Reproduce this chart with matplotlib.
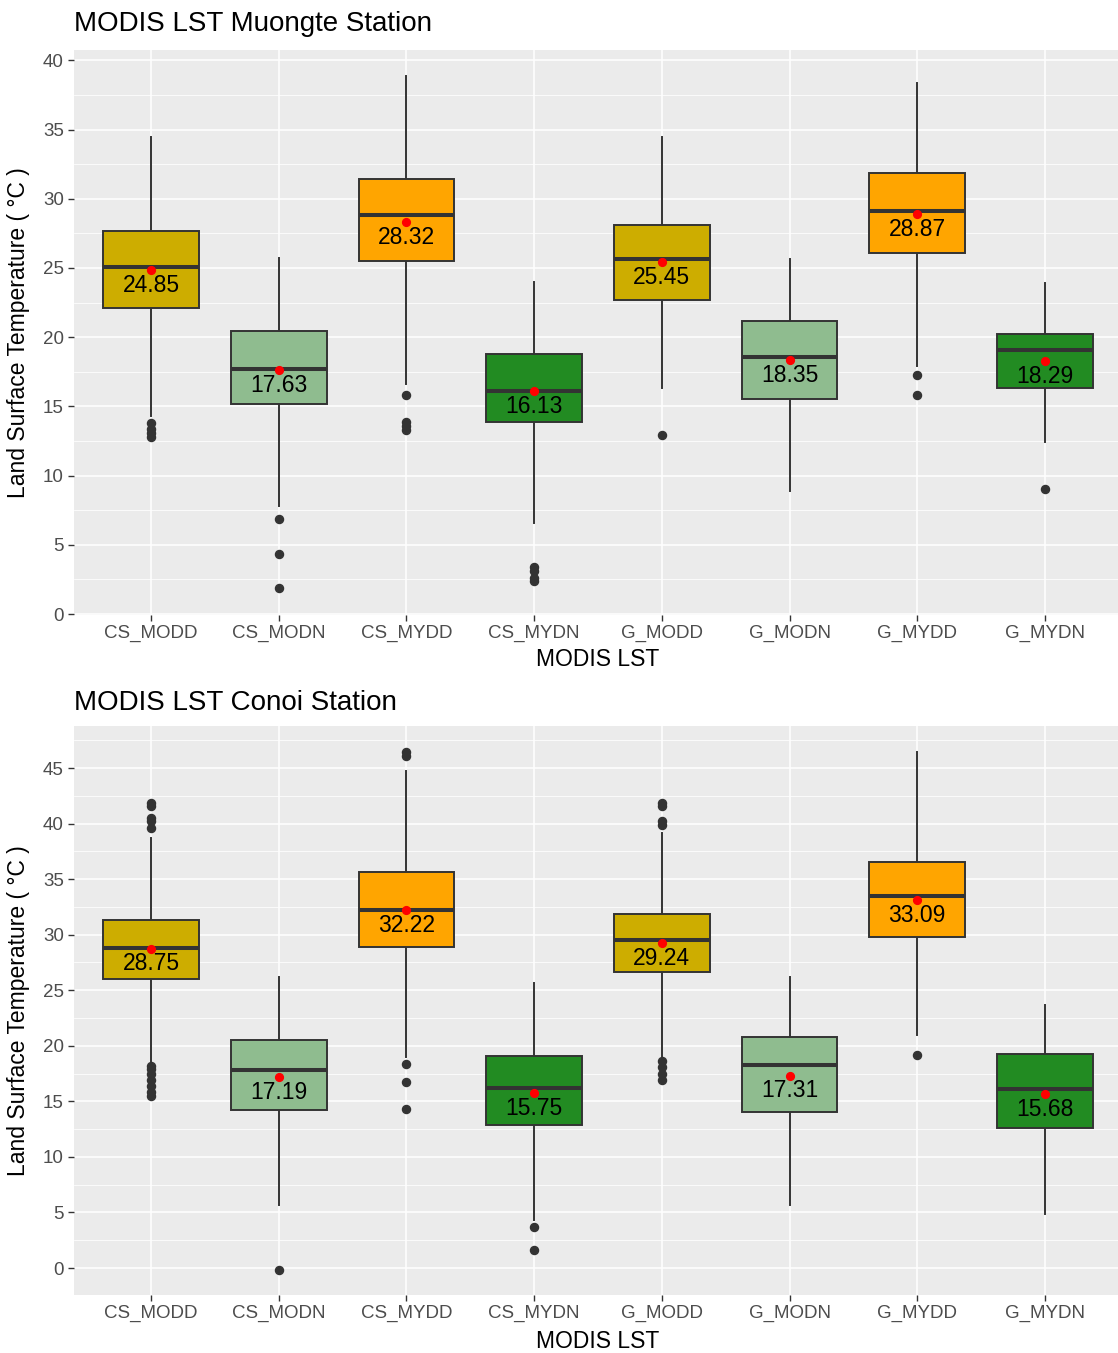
import matplotlib
matplotlib.use("Agg")
import matplotlib.pyplot as plt
from matplotlib.ticker import MultipleLocator

plt.rcParams['font.family'] = ['Liberation Sans', 'DejaVu Sans']

categories = ["CS_MODD", "CS_MODN", "CS_MYDD", "CS_MYDN",
              "G_MODD", "G_MODN", "G_MYDD", "G_MYDN"]
box_colors = ["#CDAD00", "#8FBC8F", "#FFA500", "#228B22",
              "#CDAD00", "#8FBC8F", "#FFA500", "#228B22"]

# Muongte station: box statistics per product
mu_q1 = [22.1, 15.2, 25.5, 13.85, 22.7, 15.5, 26.1, 16.35]
mu_med = [25.1, 17.7, 28.8, 16.1, 25.65, 18.55, 29.1, 19.05]
mu_q3 = [27.7, 20.45, 31.45, 18.75, 28.1, 21.15, 31.85, 20.2]
mu_lo = [14.3, 7.8, 16.6, 6.6, 16.3, 8.9, 17.9, 12.4]
mu_hi = [34.5, 25.7, 38.9, 24.0, 34.5, 25.65, 38.4, 23.95]
mu_mean = [24.85, 17.63, 28.32, 16.13, 25.45, 18.35, 28.87, 18.29]
mu_out = [[13.8, 13.4, 13.1, 12.8], [6.9, 4.35, 1.9],
          [15.8, 13.9, 13.6, 13.3], [3.4, 3.1, 2.6, 2.4],
          [12.9], [], [17.25, 15.8], [9.05]]

# Conoi station: box statistics per product
co_q1 = [26.05, 14.25, 28.9, 12.9, 26.6, 14.05, 29.8, 12.6]
co_med = [28.8, 17.85, 32.25, 16.2, 29.55, 18.3, 33.45, 16.1]
co_q3 = [31.35, 20.5, 35.65, 19.1, 31.85, 20.8, 36.55, 19.25]
co_lo = [18.4, 5.65, 19.0, 4.35, 18.9, 5.65, 21.0, 4.9]
co_hi = [38.75, 26.2, 44.75, 25.65, 39.2, 26.2, 46.45, 23.65]
co_mean = [28.75, 17.19, 32.22, 15.75, 29.24, 17.31, 33.09, 15.68]
co_out = [[41.9, 41.6, 40.5, 40.2, 39.6, 18.2, 17.9, 17.5, 16.95, 16.4, 15.8, 15.5],
          [-0.2], [46.45, 46.1, 18.35, 16.75, 14.35], [3.65, 1.65],
          [41.85, 41.6, 40.2, 39.9, 18.6, 18.1, 17.5, 16.95], [], [19.2], []]

EDGE = "#333333"


def draw_panel(ax, title, q1, med, q3, lo, hi, means, outs, ylim, title_pad):
    stats = []
    for i, name in enumerate(categories):
        stats.append(dict(label=name, q1=q1[i], med=med[i], q3=q3[i],
                          whislo=lo[i], whishi=hi[i], mean=means[i],
                          fliers=outs[i]))
    positions = list(range(1, len(categories) + 1))
    bp = ax.bxp(stats, positions=positions, widths=0.75, patch_artist=True,
                showcaps=False, showmeans=True,
                boxprops=dict(edgecolor=EDGE, linewidth=1.4),
                whiskerprops=dict(color=EDGE, linewidth=1.4),
                medianprops=dict(color=EDGE, linewidth=2.9),
                meanprops=dict(marker='o', markerfacecolor='red',
                               markeredgecolor='red', markersize=5.6),
                flierprops=dict(marker='o', markerfacecolor=EDGE,
                                markeredgecolor=EDGE, markersize=5.8))
    for patch, c in zip(bp['boxes'], box_colors):
        patch.set_facecolor(c)
        patch.set_zorder(2)
    for key in ('whiskers', 'fliers'):
        for art in bp[key]:
            art.set_zorder(1.5)
    for art in bp['medians']:
        art.set_zorder(3)
    for art in bp['means']:
        art.set_zorder(4)

    for x, m in zip(positions, means):
        ax.annotate(f"{m:.2f}", (x, m), xytext=(0, -11),
                    textcoords='offset points', ha='center', va='center',
                    fontsize=16.5, color='black', zorder=5)

    ax.set_facecolor("#EBEBEB")
    for s in ax.spines.values():
        s.set_visible(False)
    ax.set_xlim(0.4, 8.6)
    ax.set_ylim(*ylim)
    ax.set_xticks(positions)
    ax.set_xticklabels(categories)
    ax.yaxis.set_major_locator(MultipleLocator(5))
    ax.yaxis.set_minor_locator(MultipleLocator(2.5))
    ax.set_axisbelow(True)
    ax.grid(which='major', color='white', linewidth=1.1)
    ax.grid(which='minor', axis='y', color='white', linewidth=0.55)
    ax.tick_params(which='major', color=EDGE, labelcolor='#4D4D4D',
                   length=4.5, width=1.0, labelsize=13.5, pad=3)
    ax.tick_params(which='minor', length=0)

    ax.set_xlabel("MODIS LST", fontsize=16.5, va='center')
    ax.set_ylabel("Land Surface Temperature ( °C )", fontsize=16.5,
                  va='center')
    ax.set_title(title, loc='left', fontsize=20, pad=title_pad)


fig = plt.figure(figsize=(11.18, 13.53), dpi=100)
W, H = 1118, 1353
left, right = 74.4, 1121.6

ax1 = fig.add_axes([left / W, 1 - 614.7 / H, (right - left) / W, (614.7 - 50) / H])
draw_panel(ax1, "MODIS LST Muongte Station", mu_q1, mu_med, mu_q3, mu_lo,
           mu_hi, mu_mean, mu_out, (-0.05, 40.75), 13.5)
ax1.xaxis.set_label_coords(0.5, -0.080)
ax1.yaxis.set_label_coords((18 - left) / (right - left), 0.5)

ax2 = fig.add_axes([left / W, 1 - 1294.8 / H, (right - left) / W, (1294.8 - 726.4) / H])
draw_panel(ax2, "MODIS LST Conoi Station", co_q1, co_med, co_q3, co_lo,
           co_hi, co_mean, co_out, (-2.41, 48.75), 11.5)
ax2.xaxis.set_label_coords(0.5, -0.0813)
ax2.yaxis.set_label_coords((18 - left) / (right - left), 0.5)

fig.savefig("out.png", dpi=100)
